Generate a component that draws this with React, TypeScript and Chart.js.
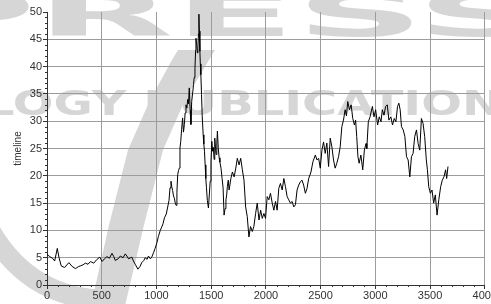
import React, { useEffect, useRef } from 'react';
import { Chart, registerables } from 'chart.js';

Chart.register(...registerables);

// ---- data ----
const timeSteps: number[] = [
  0, 25, 50, 70, 94, 110, 130, 160, 200, 230, 260, 290, 306, 330, 350, 375, 397, 427, 457, 482,
  503, 525, 548, 570, 594, 610, 624, 650, 670, 695, 715, 730, 745, 775, 790, 806, 830, 850, 866, 885,
  897, 915, 927, 945, 957, 975, 988, 1005, 1018, 1035, 1048, 1060, 1073, 1090, 1103, 1115, 1124, 1133, 1140, 1148,
  1156, 1164, 1172, 1179, 1187, 1194, 1202, 1209, 1215, 1222, 1230, 1239, 1247, 1255, 1262, 1270, 1278, 1286, 1293, 1300,
  1308, 1315, 1322, 1330, 1339, 1345, 1352, 1358, 1361, 1368, 1374, 1379, 1384, 1388, 1392, 1397, 1401, 1406, 1412, 1418,
  1427, 1433, 1439, 1445, 1451, 1457, 1465, 1475, 1483, 1491, 1498, 1506, 1513, 1520, 1527, 1533, 1540, 1545, 1552, 1557,
  1565, 1573, 1580, 1590, 1600, 1609, 1618, 1627, 1635, 1642, 1648, 1656, 1664, 1680, 1694, 1710, 1725, 1739, 1755, 1770,
  1785, 1800, 1815, 1830, 1845, 1860, 1876, 1890, 1906, 1921, 1937, 1952, 1967, 1982, 1997, 2012, 2027, 2042, 2058, 2073,
  2088, 2103, 2118, 2133, 2149, 2164, 2179, 2194, 2209, 2224, 2240, 2255, 2270, 2285, 2300, 2315, 2330, 2345, 2361, 2376,
  2391, 2412, 2430, 2452, 2467, 2482, 2497, 2512, 2527, 2542, 2557, 2573, 2588, 2603, 2618, 2633, 2648, 2664, 2679, 2694,
  2709, 2724, 2736, 2748, 2764, 2779, 2794, 2809, 2820, 2830, 2841, 2852, 2868, 2885, 2900, 2915, 2922, 2936, 2952, 2973,
  2988, 3003, 3021, 3036, 3052, 3064, 3079, 3094, 3109, 3124, 3142, 3157, 3173, 3188, 3203, 3215, 3227, 3239, 3255, 3270,
  3285, 3300, 3315, 3330, 3345, 3360, 3376, 3391, 3406, 3421, 3436, 3451, 3466, 3476, 3488, 3503, 3518, 3533, 3548, 3564,
  3580, 3597, 3612, 3627, 3642, 3652, 3664,
];

const timelineValues: number[] = [
  5.6, 5.2, 4.9, 4.4, 6.7, 5.0, 3.5, 3.2, 4.1, 3.4, 3.0, 3.4, 3.5, 3.7, 4.0, 3.8, 4.3, 4.0, 4.7, 5.1,
  4.3, 4.8, 5.2, 4.9, 5.8, 5.2, 4.5, 4.8, 5.3, 5.0, 5.7, 5.3, 4.8, 5.1, 4.4, 3.8, 2.9, 3.4, 4.1, 4.5,
  5.0, 4.7, 5.3, 4.8, 5.1, 6.0, 6.7, 7.8, 8.9, 10.0, 10.6, 11.2, 12.3, 13.0, 14.3, 15.5, 17.8, 19.0, 18.0, 17.3,
  16.3, 15.9, 15.0, 14.6, 17.0, 20.2, 21.0, 21.4, 25.1, 26.3, 28.5, 30.6, 28.0, 29.4, 31.5, 33.0, 32.4, 34.0, 33.2, 36.1,
  32.0, 29.4, 33.6, 35.0, 36.7, 38.0, 39.7, 43.0, 45.2, 44.0, 42.5, 43.4, 46.0, 49.6, 46.5, 42.8, 40.5, 38.5, 34.9, 31.0,
  27.5, 25.8, 24.5, 22.0, 19.5, 17.8, 15.5, 14.1, 16.5, 19.0, 22.5, 26.3, 24.5, 25.2, 23.0, 26.9, 25.0, 23.9, 26.0, 28.2,
  25.0, 23.3, 22.5, 21.4, 19.5, 17.8, 12.8, 14.0, 15.6, 16.5, 18.0, 19.2, 17.4, 19.5, 20.7, 19.8, 21.4, 23.2, 22.0, 23.2,
  21.1, 19.2, 14.3, 12.5, 8.8, 10.7, 9.8, 10.7, 13.1, 15.0, 11.9, 13.7, 12.2, 13.1, 12.2, 16.2, 15.6, 16.8, 15.0, 13.7,
  15.3, 13.7, 17.7, 18.6, 17.4, 19.5, 18.0, 16.2, 15.6, 15.0, 15.3, 14.3, 14.7, 17.4, 18.3, 18.9, 19.2, 18.3, 16.8, 17.7,
  19.5, 20.7, 22.6, 23.8, 22.9, 23.2, 21.4, 24.7, 26.2, 24.1, 26.0, 21.7, 26.9, 25.3, 22.9, 21.4, 22.3, 23.5, 25.3, 29.0,
  30.2, 32.1, 31.0, 33.6, 32.1, 33.0, 30.5, 29.3, 30.2, 27.2, 23.5, 22.3, 23.8, 21.1, 24.7, 25.9, 25.0, 29.9, 30.8, 32.7,
  30.8, 32.1, 29.3, 30.8, 29.9, 32.1, 31.1, 32.7, 33.0, 30.2, 30.8, 29.3, 30.5, 29.9, 32.7, 33.3, 32.1, 29.0, 28.4, 27.2,
  23.5, 22.9, 19.8, 23.5, 24.1, 27.2, 28.4, 25.9, 24.7, 30.5, 29.6, 27.2, 22.9, 21.1, 18.0, 16.8, 17.4, 15.0, 16.5, 12.8,
  15.6, 18.0, 19.2, 19.8, 21.1, 19.5, 21.7,
];

const xMin = 0;
const xMax = 4000;
const xStep = 500;
const xMinorStep = 100;
const yMin = 0;
const yMax = 50;
const yStep = 5;
const yMinorStep = 1;
const yTitle = 'timeline';

const FONT_FAMILY = "'Liberation Sans Narrow', 'Arial Narrow', 'Liberation Sans', Arial, sans-serif";
const AXIS_COLOR = '#333333';
const GRID_COLOR = '#9c9c9c';
const WATERMARK = '#d6d6d6';

const watermarkPlugin = {
  id: 'watermark',
  beforeDraw(chart: any) {
    const ctx: CanvasRenderingContext2D = chart.ctx;
    ctx.save();
    ctx.fillStyle = '#ffffff';
    ctx.fillRect(0, 0, chart.width, chart.height);
    ctx.fillStyle = WATERMARK;

    // big top word (cut off by the top edge)
    ctx.font = "bold 60px 'DejaVu Sans'";
    ctx.textBaseline = 'alphabetic';
    const w1 = ctx.measureText('PRESS').width;
    ctx.save();
    ctx.translate(-95, 36);
    ctx.scale(640 / w1, 1);
    ctx.fillText('PRESS', 0, 0);
    ctx.restore();

    // middle line
    ctx.font = "bold 34px 'DejaVu Sans'";
    const w2 = ctx.measureText('LOGY PUBLICATION').width;
    ctx.save();
    ctx.translate(-16, 115);
    ctx.scale(518 / w2, 1);
    ctx.fillText('LOGY PUBLICATION', 0, 0);
    ctx.restore();

    // diagonal swoosh
    ctx.beginPath();
    ctx.moveTo(90, 310);
    ctx.lineTo(109, 225);
    ctx.lineTo(128, 150);
    ctx.lineTo(150, 100);
    ctx.lineTo(172, 60);
    ctx.lineTo(178, 50);
    ctx.lineTo(215, 50);
    ctx.lineTo(185, 100);
    ctx.lineTo(163, 150);
    ctx.lineTo(144, 225);
    ctx.lineTo(124, 310);
    ctx.closePath();
    ctx.fill();

    // bottom-left crescent
    ctx.strokeStyle = WATERMARK;
    ctx.lineWidth = 20;
    ctx.beginPath();
    ctx.moveTo(-10, 230);
    ctx.quadraticCurveTo(30, 300, 110, 300);
    ctx.stroke();
    ctx.restore();
  },
};

const minorTicksPlugin = {
  id: 'minorTicks',
  afterDraw(chart: any) {
    const ctx: CanvasRenderingContext2D = chart.ctx;
    const x = chart.scales.x;
    const y = chart.scales.y;
    ctx.save();
    ctx.strokeStyle = AXIS_COLOR;
    ctx.lineWidth = 1;
    ctx.beginPath();
    for (let v = xMin; v <= xMax; v += xMinorStep) {
      if (v % xStep === 0) continue;
      const px = Math.round(x.getPixelForValue(v)) + 0.5;
      ctx.moveTo(px, x.top);
      ctx.lineTo(px, x.top + 2);
    }
    for (let v = yMin; v <= yMax; v += yMinorStep) {
      if (v % yStep === 0) continue;
      const py = Math.round(y.getPixelForValue(v)) + 0.5;
      ctx.moveTo(y.right, py);
      ctx.lineTo(y.right - 2, py);
    }
    ctx.stroke();
    ctx.restore();
  },
};

export default function App() {
  const canvasRef = useRef<HTMLCanvasElement | null>(null);

  useEffect(() => {
    const canvas = canvasRef.current;
    if (!canvas) return;
    const points = timeSteps.map((t, i) => ({ x: t, y: timelineValues[i] }));
    const tickFont = { family: FONT_FAMILY, size: 11 };
    const chart = new Chart(canvas, {
      type: 'line',
      data: {
        datasets: [
          {
            label: yTitle,
            data: points,
            borderColor: '#000000',
            borderWidth: 1,
            pointRadius: 0,
            tension: 0,
            fill: false,
          },
        ],
      },
      options: {
        animation: false,
        responsive: false,
        devicePixelRatio: 1,
        layout: { padding: { top: 12, left: 0, right: 0, bottom: 0 } },
        plugins: {
          legend: { display: false },
          tooltip: { enabled: false },
        },
        scales: {
          x: {
            type: 'linear',
            min: xMin,
            max: xMax,
            ticks: {
              stepSize: xStep,
              autoSkip: false,
              maxRotation: 0,
              color: AXIS_COLOR,
              font: tickFont,
              padding: 0,
              callback: (v: any) => String(v),
            },
            grid: { color: GRID_COLOR, tickLength: 4, tickColor: AXIS_COLOR },
            border: { color: AXIS_COLOR },
            afterFit(scale: any) {
              scale.height = 19;
            },
          },
          y: {
            type: 'linear',
            min: yMin,
            max: yMax,
            ticks: {
              stepSize: yStep,
              color: AXIS_COLOR,
              font: tickFont,
              padding: 1,
              callback: (v: any) => String(v),
            },
            grid: {
              color: (c: any) => (c.tick && c.tick.value === yMax ? 'rgba(0,0,0,0)' : GRID_COLOR),
              tickLength: 4,
              tickColor: AXIS_COLOR,
            },
            border: { color: AXIS_COLOR },
            title: {
              display: true,
              text: yTitle,
              color: AXIS_COLOR,
              font: { family: FONT_FAMILY, size: 10 },
              padding: { top: 12, bottom: 0 },
            },
            afterFit(scale: any) {
              scale.width = 47;
            },
          },
        },
      },
      plugins: [watermarkPlugin, minorTicksPlugin],
    });
    return () => chart.destroy();
  }, []);

  return (
    <div style={{ position: 'fixed', left: 0, top: 0, width: 491, height: 304, overflow: 'hidden', background: '#fff' }}>
      <canvas ref={canvasRef} width={497} height={304} style={{ display: 'block' }} />
    </div>
  );
}
